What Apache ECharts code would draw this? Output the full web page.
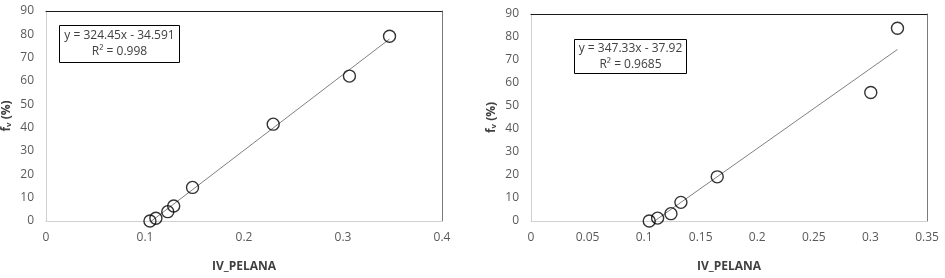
<!DOCTYPE html>
<html><head><meta charset="utf-8">
<script src="https://cdn.jsdelivr.net/npm/echarts@6/dist/echarts.min.js"></script>
<style>html,body{margin:0;padding:0;background:#fff}#c{width:945px;height:278px}</style>
</head><body><div id="c"></div>
<script>
// Left chart data
const leftX = [0.105, 0.111, 0.123, 0.129, 0.148, 0.2295, 0.3065, 0.347];
const leftY = [0.0, 1.2, 4.0, 6.4, 14.4, 41.5, 62.1, 79.2];
const leftFit = [324.45, -34.591];
const leftEq = ['y = 324.45x - 34.591', 'R² = 0.998'];
const leftXTicks = [0, 0.1, 0.2, 0.3, 0.4];

// Right chart data
const rightX = [0.1045, 0.1119, 0.1237, 0.1325, 0.1646, 0.3003, 0.3239];
const rightY = [0.0, 1.25, 3.2, 8.1, 19.2, 55.9, 83.8];
const rightFit = [347.33, -37.92];
const rightEq = ['y = 347.33x - 37.92', 'R² = 0.9685'];
const rightXTicks = [0, 0.05, 0.1, 0.15, 0.2, 0.25, 0.3, 0.35];

const yTicks = [0, 10, 20, 30, 40, 50, 60, 70, 80, 90];
const xName = 'IV_PELANA';
const yName = 'fᵥ (%)';

const FONT = '"Open Sans", "Noto Sans", sans-serif';
const chart = echarts.init(document.getElementById('c'));

function pairs(xs, ys){ return xs.map((x,i)=>[x, ys[i]]); }
function fitLine(xs, fit){
  const a = Math.min(...xs), b = Math.max(...xs);
  return [[a, fit[0]*a+fit[1]], [b, fit[0]*b+fit[1]]];
}
function mainX(idx, ticks){
  return {type:'value', gridIndex: idx, min: ticks[0], max: ticks[ticks.length-1],
    interval: ticks[1]-ticks[0],
    name: xName, nameLocation:'middle', nameGap: 40,
    nameTextStyle:{fontFamily:FONT, fontWeight:'bold', fontSize:12, color:'#404040'},
    axisLine:{show:true, onZero:false, lineStyle:{color:'#D0D0D0', width:1}},
    axisTick:{show:false}, splitLine:{show:false},
    axisLabel:{fontFamily:FONT, fontSize:12, color:'#595959', margin:11,
      formatter: v => String(+v.toFixed(2))}};
}
function mainY(idx){
  return {type:'value', gridIndex: idx, min: yTicks[0], max: yTicks[yTicks.length-1], interval: 10,
    name: yName, nameLocation:'middle', nameGap: 33, nameRotate: 90,
    nameTextStyle:{fontFamily:FONT, fontWeight:'bold', fontSize:12, color:'#404040'},
    axisLine:{show:true, onZero:false, lineStyle:{color:'#D0D0D0', width:1}},
    axisTick:{show:false}, splitLine:{show:false},
    axisLabel:{fontFamily:FONT, fontSize:12, color:'#595959', margin:12}};
}
function borderX(idx, ticks){
  return {type:'value', gridIndex: idx, position:'top', min: ticks[0], max: ticks[ticks.length-1],
    axisLine:{show:true, onZero:false, lineStyle:{color:'#1a1a1a', width:1}},
    axisTick:{show:false}, axisLabel:{show:false}, splitLine:{show:false}};
}
function borderY(idx){
  return {type:'value', gridIndex: idx, position:'right', min:0, max:90,
    axisLine:{show:true, onZero:false, lineStyle:{color:'#7a7a7a', width:1}},
    axisTick:{show:false}, axisLabel:{show:false}, splitLine:{show:false}};
}
function scatter(xi, yi, data){
  return {type:'scatter', xAxisIndex: xi, yAxisIndex: yi, data, symbol:'circle', symbolSize: 12,
    itemStyle:{color:'rgba(255,255,255,0)', borderColor:'#000', borderWidth:1.4}, z:3, silent:true};
}
function trend(xi, yi, data){
  return {type:'line', xAxisIndex: xi, yAxisIndex: yi, data, symbol:'none',
    lineStyle:{color:'#808080', width:1}, z:2, silent:true};
}
function eqBox(left, top, w, h, lines){
  return {type:'group', left, top, children:[
    {type:'rect', shape:{x:0,y:0,width:w,height:h}, style:{fill:'#fff', stroke:'#000', lineWidth:1}},
    {type:'text', x:w/2, y:h/2, style:{text: lines.join('\n'), fill:'#404040', font:'12px '+FONT,
      align:'center', verticalAlign:'middle', lineHeight:16}}
  ]};
}

chart.setOption({
  animation:false,
  grid:[
    {left:44, top:11, width:398, height:216},
    {left:531, top:14, width:396, height:214}
  ],
  xAxis:[mainX(0, leftXTicks), mainX(1, rightXTicks), borderX(0, leftXTicks), borderX(1, rightXTicks)],
  yAxis:[mainY(0), mainY(1), borderY(0), borderY(1)],
  series:[
    trend(0,0, fitLine(leftX, leftFit)),
    scatter(0,0, pairs(leftX, leftY)),
    trend(1,1, fitLine(rightX, rightFit)),
    scatter(1,1, pairs(rightX, rightY))
  ],
  graphic:[
    eqBox(59, 25, 120, 37, leftEq),
    eqBox(574, 39, 112, 34, rightEq)
  ]
});
</script></body></html>
